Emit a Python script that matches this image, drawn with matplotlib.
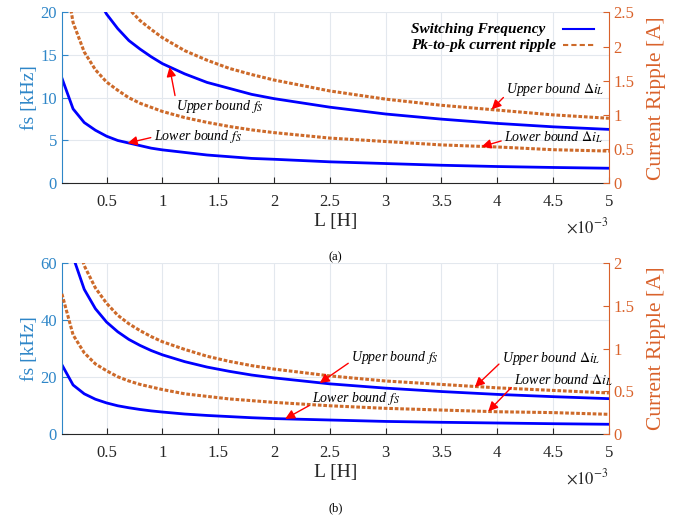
import matplotlib
matplotlib.use('Agg')
import matplotlib.pyplot as plt
from matplotlib.ticker import FuncFormatter, MultipleLocator

plt.rcParams['font.family'] = 'Liberation Serif'
plt.rcParams['mathtext.fontset'] = 'stix'

blue_ax = '#2E86C8'
orange_ax = '#D9622B'
line_blue = '#0000FF'
line_orange = '#CD6A2A'

# inductance in mH
L_mH = [0.1, 0.2, 0.3, 0.4, 0.5, 0.6, 0.7, 0.8, 0.9, 1.0, 1.2, 1.4, 1.6, 1.8, 2.0,
        2.5, 3.0, 3.5, 4.0, 4.5, 5.0]

# (a)
fs_low_a = [12.3, 8.7, 7.1, 6.2, 5.5, 5.0, 4.7, 4.4, 4.1, 3.9, 3.6, 3.3, 3.1, 2.9, 2.8,
            2.5, 2.3, 2.1, 1.95, 1.84, 1.75]
fs_up_a = [44.3, 31.3, 25.6, 22.1, 19.8, 18.1, 16.7, 15.7, 14.8, 14.0, 12.8, 11.8, 11.1, 10.4, 9.9,
           8.9, 8.1, 7.5, 7.0, 6.6, 6.3]
di_up_a = [6.73, 4.76, 3.89, 3.37, 3.01, 2.75, 2.55, 2.38, 2.25, 2.13, 1.94, 1.80, 1.68, 1.59, 1.51,
           1.35, 1.23, 1.14, 1.07, 1.00, 0.95]
di_low_a = [3.32, 2.35, 1.92, 1.66, 1.48, 1.36, 1.25, 1.17, 1.11, 1.05, 0.96, 0.89, 0.83, 0.78, 0.74,
            0.66, 0.61, 0.56, 0.53, 0.49, 0.47]

# (b)
fs_low_b = [24.3, 17.2, 14.1, 12.2, 10.9, 9.9, 9.2, 8.6, 8.1, 7.7, 7.0, 6.5, 6.1, 5.7, 5.4,
            4.9, 4.4, 4.1, 3.85, 3.6, 3.4]
fs_up_b = [87.9, 62.2, 50.8, 44.0, 39.3, 35.9, 33.2, 31.1, 29.3, 27.8, 25.4, 23.5, 22.0, 20.7, 19.7,
           17.6, 16.1, 14.9, 13.9, 13.1, 12.4]
di_up_b = [3.42, 2.41, 1.97, 1.71, 1.53, 1.39, 1.29, 1.21, 1.14, 1.08, 0.99, 0.91, 0.85, 0.80, 0.76,
           0.68, 0.62, 0.58, 0.54, 0.51, 0.48]
di_low_b = [1.64, 1.16, 0.95, 0.82, 0.74, 0.67, 0.62, 0.58, 0.55, 0.52, 0.47, 0.44, 0.41, 0.39, 0.37,
            0.33, 0.30, 0.28, 0.26, 0.25, 0.23]

legend_labels = ['Switching Frequency', 'Pk-to-pk current ripple']

L = [v * 1e-3 for v in L_mH]

fig = plt.figure(figsize=(6.88, 5.16), dpi=100)
fmt = FuncFormatter(lambda v, p: f'{v:g}')
fmt_x = FuncFormatter(lambda v, p: f'{v * 1e3:g}')
dots = (0, (1.2, 0.6))


def setup(ax, ax2, ymax_l, ystep_l, ymax_r, ystep_r, label):
    ax.set_xlim(0.1e-3, 5e-3)
    ax2.set_xlim(0.1e-3, 5e-3)
    ax.set_ylim(0, ymax_l)
    ax2.set_ylim(0, ymax_r)
    ax.xaxis.set_major_locator(MultipleLocator(0.5e-3))
    ax.xaxis.set_major_formatter(fmt_x)
    ax.yaxis.set_major_locator(MultipleLocator(ystep_l))
    ax.yaxis.set_major_formatter(fmt)
    ax2.yaxis.set_major_locator(MultipleLocator(ystep_r))
    ax2.yaxis.set_major_formatter(fmt)
    ax.grid(True, color='#E3E8EE', lw=0.8)
    ax.set_axisbelow(True)
    for a in (ax, ax2):
        a.spines['top'].set_visible(False)
    ax.spines['right'].set_visible(False)
    ax2.spines['left'].set_visible(False)
    ax2.spines['bottom'].set_visible(False)
    ax.spines['left'].set_color(blue_ax)
    ax.spines['bottom'].set_color('#262626')
    ax2.spines['right'].set_color(orange_ax)
    ax.tick_params(axis='y', colors=blue_ax, direction='in', labelsize=12, length=4)
    ax.tick_params(axis='x', colors='#262626', direction='in', labelsize=12, length=4, pad=8)
    ax2.tick_params(axis='y', colors=orange_ax, direction='in', labelsize=12, length=4)
    ax.set_ylabel('fs [kHz]', color=blue_ax, fontsize=14, labelpad=2)
    ax2.set_ylabel('Current Ripple [A]', color=orange_ax, fontsize=15.5, labelpad=9)
    ax.set_xlabel('L [H]', color='#262626', fontsize=14, labelpad=2)
    ax.text(1.0, -0.2, r'$\times 10^{-3}$', transform=ax.transAxes, ha='right', va='top',
            fontsize=12, color='#262626')
    ax.text(0.5, -0.4, label, transform=ax.transAxes, ha='center', va='top', fontsize=9)


arrow = dict(arrowstyle='-|>', color='red', lw=1.0, mutation_scale=14, shrinkA=0, shrinkB=0)


def note(ax, text, xy, xytext, rel):
    ax.annotate(text, xy=(xy[0] * 1e-3, xy[1]), xytext=(xytext[0] * 1e-3, xytext[1]),
                ha='left', va='center', fontsize=10, style='italic',
                arrowprops=dict(arrow, relpos=rel))


# ---- (a)
ax = fig.add_axes([0.090, 0.645, 0.795, 0.331])
ax2 = ax.twinx()
ax.plot(L, fs_low_a, color=line_blue, lw=2)
ax.plot(L, fs_up_a, color=line_blue, lw=2)
ax2.plot(L, di_up_a, color=line_orange, lw=2.2, ls=dots)
ax2.plot(L, di_low_a, color=line_orange, lw=2.2, ls=dots)
setup(ax, ax2, 20, 5, 2.5, 0.5, '(a)')
note(ax2, r'Upper bound $f_S$', (1.064, 13.6 / 8), (1.118, 8.94 / 8), (0.0, 1.0))
note(ax2, r'Lower bound $f_S$', (0.689, 4.7 / 8), (0.921, 5.41 / 8), (0.0, 0.5))
note(ax2, r'Upper bound $\Delta i_L$', (3.95, 1.08), (4.08, 1.37), (0.0, 0.2))
note(ax2, r'Lower bound $\Delta i_L$', (3.86, 0.535), (4.06, 0.676), (0.0, 0.3))

# legend: text left-aligned, sample line after it
leg_styles = [dict(color=line_blue, lw=1.5), dict(color=line_orange, lw=1.5, ls=(0, (2.5, 1.5)))]
for i, (lab, st) in enumerate(zip(legend_labels, leg_styles)):
    yy = 0.901 - i * 0.094
    ax2.text(0.638, yy, lab, transform=ax2.transAxes, ha='left', va='center',
             fontsize=11, style='italic', weight='bold')
    ax2.plot([0.916, 0.973], [yy, yy], transform=ax2.transAxes, **st)

# ---- (b)
bx = fig.add_axes([0.090, 0.159, 0.795, 0.331])
bx2 = bx.twinx()
bx.plot(L, fs_low_b, color=line_blue, lw=2)
bx.plot(L, fs_up_b, color=line_blue, lw=2)
bx2.plot(L, di_up_b, color=line_orange, lw=2.2, ls=dots)
bx2.plot(L, di_low_b, color=line_orange, lw=2.2, ls=dots)
setup(bx, bx2, 60, 20, 2, 0.5, '(b)')
note(bx2, r'Upper bound $f_S$', (2.41, 17.9 / 30), (2.69, 26.7 / 30), (0.0, 0.3))
note(bx2, r'Lower bound $f_S$', (2.1, 5.3 / 30), (2.34, 12.3 / 30), (0.0, 0.2))
note(bx2, r'Upper bound $\Delta i_L$', (3.8, 0.55), (4.04, 0.889), (0.0, 0.3))
note(bx2, r'Lower bound $\Delta i_L$', (3.92, 0.265), (4.15, 0.632), (0.0, 0.2))

fig.savefig('out.png', dpi=100)
